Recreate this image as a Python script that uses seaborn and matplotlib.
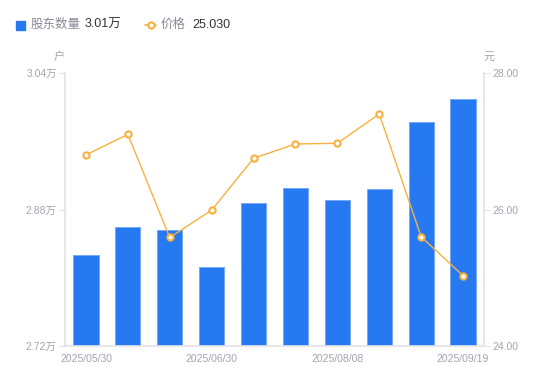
import matplotlib
matplotlib.use("Agg")
import matplotlib.pyplot as plt
from matplotlib.lines import Line2D
from matplotlib.patches import Rectangle
import seaborn as sns
import numpy as np
import pandas as pd

dates = ["2025/05/30", "2025/06/10", "2025/06/20", "2025/06/30", "2025/07/10",
         "2025/07/20", "2025/08/08", "2025/08/20", "2025/09/10", "2025/09/19"]
holders = [2.8267, 2.8595, 2.856, 2.8126, 2.8873, 2.9056, 2.8908, 2.9037, 2.9829, 3.0095]  # 万户
prices = [26.80, 27.10, 25.59, 25.99, 26.75, 26.96, 26.97, 27.40, 25.60, 25.03]
left_ticks = [2.72, 2.88, 3.04]
right_ticks = [24.00, 26.00, 28.00]
shown_labels = ["2025/05/30", "2025/06/30", "2025/08/08", "2025/09/19"]

BLUE = "#2779f2"
ORANGE = "#f7b13e"
GRAY = "#a3a3b3"
AXIS = "#e3e3e8"
DARK = "#333333"

sns.set_theme(style="white")
plt.rcParams["font.family"] = ["Liberation Sans", "Noto Sans CJK SC", "DejaVu Sans"]

df = pd.DataFrame({"date": dates, "holders": holders, "price": prices,
                   "pos": np.arange(len(dates))})

fig = plt.figure(figsize=(5.5, 3.81), dpi=100)
ax = fig.add_axes([65 / 550, 35 / 381, 419 / 550, 273 / 381])
sns.barplot(data=df, x="date", y="holders", color=BLUE, saturation=1, width=0.6,
            edgecolor="#6fa5f5", linewidth=0.6, ax=ax)
ax.set_xlim(-0.5, len(dates) - 0.5)
ax.set_ylim(left_ticks[0], left_ticks[-1])
ax.set_yticks(left_ticks)
ax.set_yticklabels([f"{v:.2f}万" for v in left_ticks])
ax.set_xticks([dates.index(d) for d in shown_labels])
ax.set_xticklabels(shown_labels)
ax.set_xlabel("")
ax.set_ylabel("")

ax2 = ax.twinx()
sns.lineplot(data=df, x="pos", y="price", color=ORANGE, linewidth=1.0, marker="o",
             markersize=4.5, markerfacecolor="white", markeredgecolor=ORANGE,
             markeredgewidth=1.5, ax=ax2)
ax2.set_ylim(right_ticks[0], right_ticks[-1])
ax2.set_yticks(right_ticks)
ax2.set_yticklabels([f"{v:.2f}" for v in right_ticks])
ax2.set_xlim(-0.5, len(dates) - 0.5)
ax2.set_ylabel("")
ax2.set_xlabel("")

for a in (ax, ax2):
    for s in a.spines.values():
        s.set_visible(False)
    a.tick_params(axis="y", colors=AXIS, labelcolor=GRAY, labelsize=7.5,
                  length=4, width=0.8, direction="out", pad=2)
    a.grid(False)
ax.spines["left"].set_visible(True)
ax.spines["left"].set_color(AXIS)
ax.spines["bottom"].set_visible(True)
ax.spines["bottom"].set_color(AXIS)
ax2.spines["right"].set_visible(True)
ax2.spines["right"].set_color(AXIS)
ax.tick_params(axis="x", length=0, labelcolor=GRAY, labelsize=7.5, pad=6)
ax2.tick_params(axis="x", length=0, labelbottom=False)

# unit labels
fig.text(59 / 550, 1 - 57 / 381, "户", color=GRAY, fontsize=8, ha="center", va="center")
fig.text(489 / 550, 1 - 57 / 381, "元", color=GRAY, fontsize=8, ha="center", va="center")

# legend
ly = 1 - 25 / 381
fig.patches.append(Rectangle((16 / 550, 1 - 29.5 / 381), 9 / 550, 9 / 381,
                             transform=fig.transFigure, color=BLUE, figure=fig))
fig.text(31 / 550, ly, "股东数量", color="#8a8a99", fontsize=9, ha="left", va="center")
fig.text(85 / 550, ly, f"{holders[-1]:.2f}万", color=DARK, fontsize=9, ha="left", va="center")
fig.lines.append(Line2D([145 / 550, 156 / 550], [ly, ly], transform=fig.transFigure,
                        color=ORANGE, linewidth=1.2, figure=fig))
fig.lines.append(Line2D([150.5 / 550], [ly], transform=fig.transFigure, marker="o",
                        markersize=4.5, markerfacecolor="white", markeredgecolor=ORANGE,
                        markeredgewidth=1.5, figure=fig))
fig.text(161 / 550, ly, "价格", color="#8a8a99", fontsize=9, ha="left", va="center")
fig.text(192 / 550, ly, f"{prices[-1]:.3f}", color=DARK, fontsize=9, ha="left", va="center")

fig.savefig("out.png", dpi=100)
